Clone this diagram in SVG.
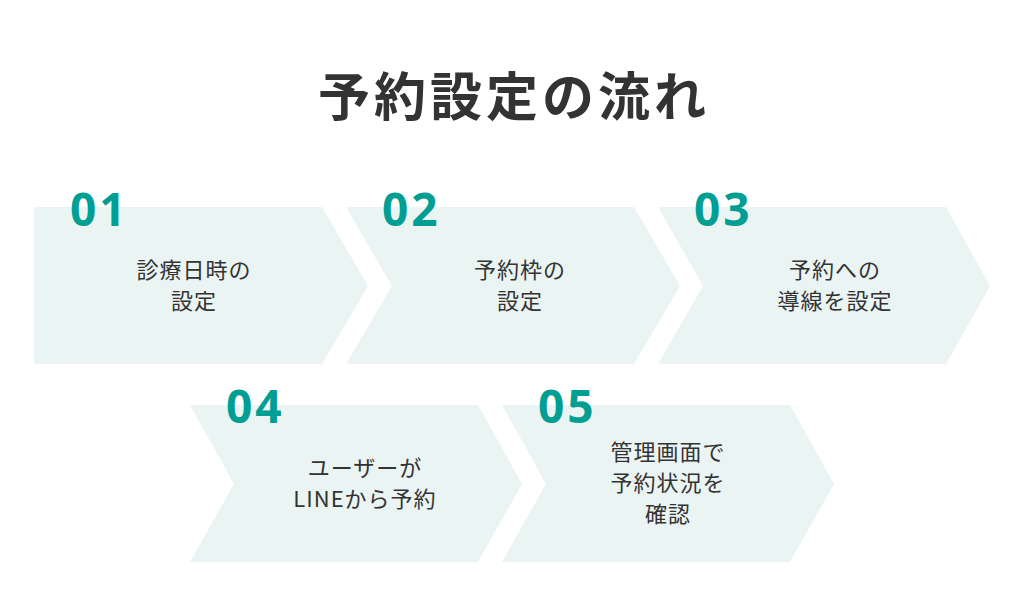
<svg xmlns="http://www.w3.org/2000/svg" width="1024" height="597" viewBox="0 0 1024 597">
<style>
.s{fill:#eaf4f3}
.n{font-family:"Open Sans","Noto Sans",sans-serif;font-weight:700;font-size:46px;fill:#009e93;letter-spacing:3px}
.t{font-family:"Noto Sans CJK JP",sans-serif;font-size:22px;fill:#333;text-anchor:middle;letter-spacing:1px}
.h{font-family:"Noto Sans CJK JP",sans-serif;font-weight:700;font-size:52px;fill:#333;text-anchor:middle;letter-spacing:4px}
</style>
<rect width="1024" height="597" fill="#fff"/>
<text class="h" x="514" y="116">予約設定の流れ</text>
<g id="g-connectors"></g>
<g id="step1"><polygon class="s" points="34,207 322,207 368,286 322,364 34,364"/><text class="n" x="70" y="226">01</text><text class="t" x="194" y="278">診療日時の</text><text class="t" x="194" y="309">設定</text></g>
<g id="step2"><polygon class="s" points="346,207 634,207 680,286 634,364 346,364 392,286"/><text class="n" x="382" y="226">02</text><text class="t" x="520" y="278">予約枠の</text><text class="t" x="520" y="309">設定</text></g>
<g id="step3"><polygon class="s" points="658,207 946,207 990,286 946,364 658,364 703,286"/><text class="n" x="694" y="226">03</text><text class="t" x="835" y="278">予約への</text><text class="t" x="835" y="309">導線を設定</text></g>
<g id="step4"><polygon class="s" points="190,405 478,405 522,484 478,562 190,562 234,484"/><text class="n" x="226" y="423">04</text><text class="t" x="365" y="476">ユーザーが</text><text class="t" x="365" y="507">LINEから予約</text></g>
<g id="step5"><polygon class="s" points="502,405 790,405 834,484 790,562 502,562 546,484"/><text class="n" x="538" y="423">05</text><text class="t" x="668" y="460">管理画面で</text><text class="t" x="668" y="491">予約状況を</text><text class="t" x="668" y="522">確認</text></g>
</svg>
